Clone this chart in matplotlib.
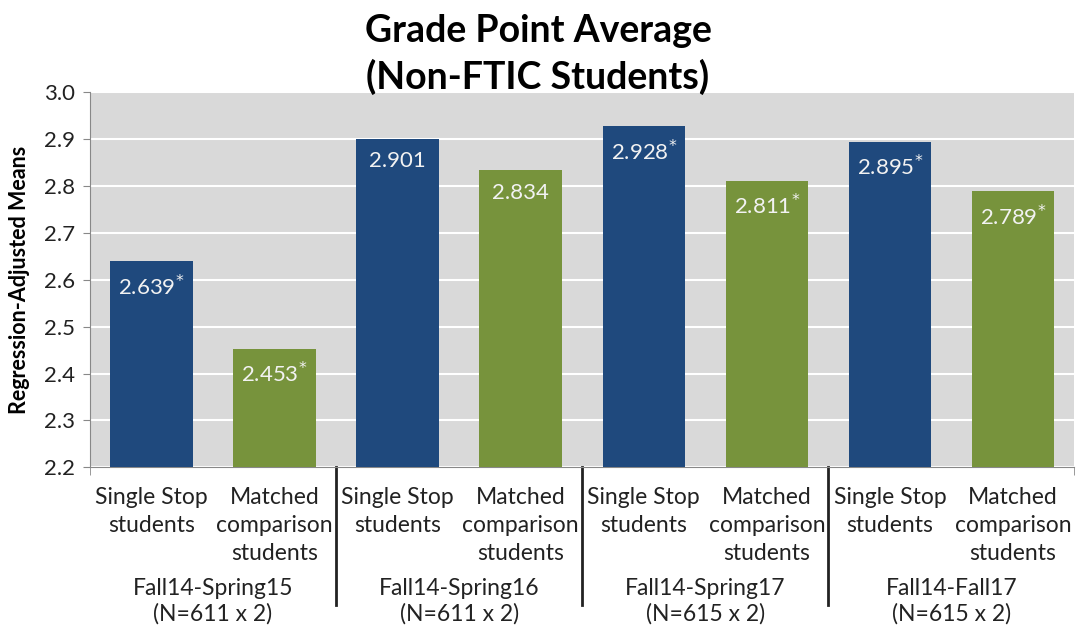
import numpy as np
import matplotlib.pyplot as plt
from matplotlib.transforms import blended_transform_factory

plt.rcParams['font.family'] = ['Lato', 'DejaVu Sans']

# data
groups = ['Fall14-Spring15\n(N=611 x 2)', 'Fall14-Spring16\n(N=611 x 2)',
          'Fall14-Spring17\n(N=615 x 2)', 'Fall14-Fall17\n(N=615 x 2)']
single_stop = [2.639, 2.901, 2.928, 2.895]
matched = [2.453, 2.834, 2.811, 2.789]
ss_sig = [True, False, True, True]
mc_sig = [True, False, True, True]
bar_labels = ['Single Stop\nstudents', 'Matched\ncomparison\nstudents']

blue = '#1F497D'
green = '#77933C'

fig = plt.figure(figsize=(10.76, 6.28), dpi=100)
ax = fig.add_axes([0.0836, 0.256, 0.915, 0.597])
ax.set_facecolor('#D9D9D9')

vals, cols, sigs, labs = [], [], [], []
for i in range(len(groups)):
    vals += [single_stop[i], matched[i]]
    cols += [blue, green]
    sigs += [ss_sig[i], mc_sig[i]]
    labs += bar_labels
x = np.arange(len(vals))

ax.bar(x, np.array(vals) - 2.2, bottom=2.2, width=0.67, color=cols, zorder=3)
for xi, v, s in zip(x, vals, sigs):
    txt = f'{v:.3f}' + (r'$^{*}$' if s else '')
    ax.annotate(txt, (xi, v), xytext=(0, -9), textcoords='offset points',
                ha='center', va='top', color='#F2F2F2', fontsize=16, zorder=4)

ax.set_ylim(2.2, 3.0)
ax.set_xlim(-0.5, len(vals) - 0.5)
ax.set_yticks(np.arange(2.2, 3.01, 0.1))
ax.set_yticklabels([f'{t:.1f}' for t in np.arange(2.2, 3.01, 0.1)], fontsize=16, color='#222222')
ax.yaxis.grid(True, color='white', lw=1.5, zorder=1)
ax.set_axisbelow(True)

ax.set_xticks(x)
ax.set_xticklabels(labs, fontsize=16.5, va='top', linespacing=1.42, color='#222222')
ax.tick_params(axis='x', length=0, pad=14)
ax.tick_params(axis='y', length=5, color='#888888', pad=6)
ax.set_xticks(np.arange(-0.5, len(vals), 2), minor=True)
ax.tick_params(axis='x', which='minor', length=6, color='#888888')

for side in ['top', 'right']:
    ax.spines[side].set_visible(False)
ax.spines['left'].set_color('#888888')
ax.spines['bottom'].set_color('#888888')

trans = blended_transform_factory(ax.transData, ax.transAxes)
for b in [1.5, 3.5, 5.5]:
    ax.plot([b, b], [0, -0.368], color='#222222', lw=2, transform=trans, clip_on=False)
for i, g in enumerate(groups):
    ax.text(2 * i + 0.5, -0.295, g, transform=trans, ha='center', va='top',
            fontsize=16.5, linespacing=1.25, color='#222222')

ax.set_ylabel('Regression-Adjusted Means', fontsize=15.5, fontweight='bold', labelpad=10)
fig.suptitle('Grade Point Average\n(Non-FTIC Students)', fontsize=27, fontweight='bold',
             y=0.978, va='top', linespacing=1.38)

fig.savefig('out.png', dpi=100)
